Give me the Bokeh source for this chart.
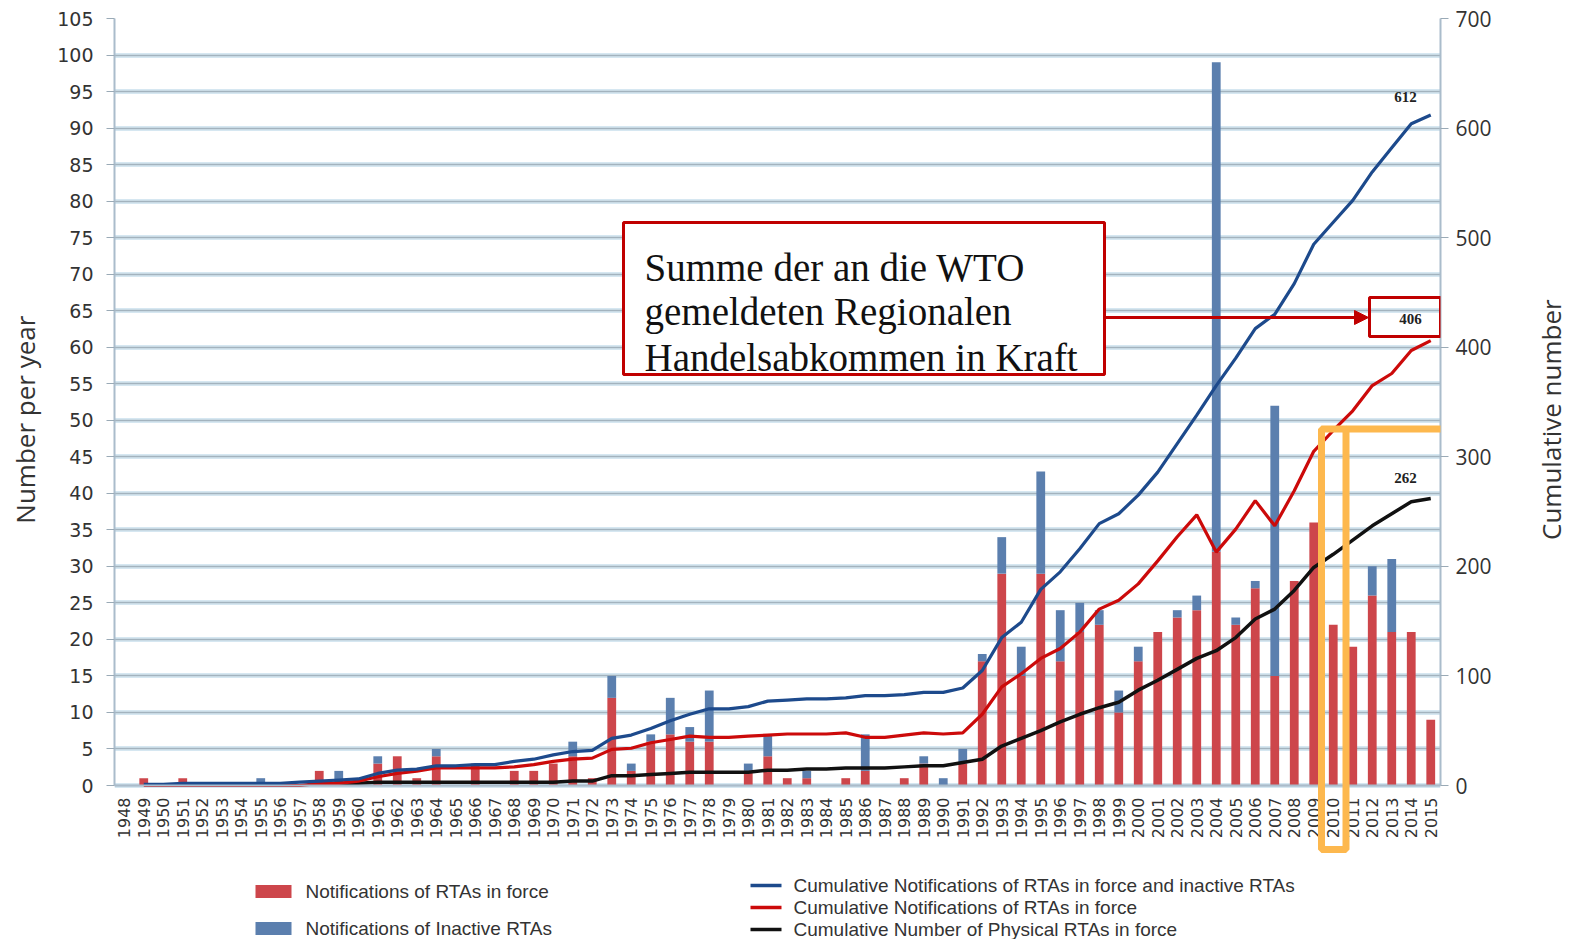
import math
from bokeh.plotting import figure
from bokeh.layouts import row
from bokeh.models import (Range1d, LinearAxis, FixedTicker, FactorRange, Label,
                          BoxAnnotation, Arrow, NormalHead, Grid, ColumnDataSource)
from bokeh.embed import file_html
from bokeh.resources import INLINE

# ---------------- data ----------------
years = [str(y) for y in range(1948, 2016)]

in_force = [0, 1, 0, 1, 0, 0, 0, 0, 0, 0,          # 1948-1957
            2, 0, 0, 3, 4, 1, 4, 0, 3, 0,          # 1958-1967
            2, 2, 3, 4, 1, 12, 2, 6, 7, 6,         # 1968-1977
            6, 0, 2, 4, 1, 1, 0, 1, 2, 0,          # 1978-1987
            1, 3, 0, 3, 17, 29, 15, 29, 17, 21,    # 1988-1997
            22, 10, 17, 21, 23, 24, 32, 22, 27, 15,  # 1998-2007
            28, 36, 22, 19, 26, 21, 21, 9]         # 2008-2015

inactive = [0, 0, 0, 0, 0, 0, 0, 1, 0, 0,          # 1948-1957
            0, 2, 0, 1, 0, 0, 1, 0, 0, 0,          # 1958-1967
            0, 0, 0, 2, 0, 3, 1, 1, 5, 2,          # 1968-1977
            7, 0, 1, 3, 0, 1, 0, 0, 5, 0,          # 1978-1987
            0, 1, 1, 2, 1, 5, 4, 14, 7, 4,         # 1988-1997
            2, 3, 2, 0, 1, 2, 67, 1, 1, 37,        # 1998-2007
            0, 0, 0, 0, 4, 10, 0, 0]               # 2008-2015

cum_all_years = years[1:]          # 1949-2015
cum_all = [1, 1, 2, 2, 2, 2, 2, 2, 3, 4,                     # 1949-1958
           5, 6, 11, 14, 15, 18, 18, 19, 19, 22,             # 1959-1968
           24, 28, 31, 32, 43, 46, 52, 59, 65, 70,           # 1969-1978
           70, 72, 77, 78, 79, 79, 80, 82, 82, 83,           # 1979-1988
           85, 85, 89, 105, 135, 149, 179, 195, 216, 239,    # 1989-1998
           248, 265, 286, 312, 338, 365, 390, 417, 430, 458, # 1999-2008
           494, 514, 534, 560, 582, 604, 612]                # 2009-2015

cum_inforce_years = years[1:]      # 1949-2015
cum_inforce = [0, 0, 0, 0, 0, 0, 0, 0, 0, 2,                 # 1949-1958
               2, 4, 8, 11, 13, 16, 16, 16, 16, 17,          # 1959-1968
               19, 22, 24, 25, 33, 34, 39, 42, 45, 44,       # 1969-1978
               44, 45, 46, 47, 47, 47, 48, 44, 44, 46,       # 1979-1988
               48, 47, 48, 65, 90, 102, 116, 125, 140, 161,  # 1989-1998
               169, 184, 205, 227, 247, 213, 234, 260, 237, 269,  # 1999-2008
               305, 324, 342, 365, 376, 397, 406]            # 2009-2015

cum_physical_years = years[10:]    # 1958-2015
cum_physical = [2, 2, 2, 3, 3, 3, 3, 3, 3, 3,                # 1958-1967
                3, 3, 3, 4, 4, 9, 9, 10, 11, 12,             # 1968-1977
                12, 12, 12, 14, 14, 15, 15, 16, 16, 16,      # 1978-1987
                17, 18, 18, 21, 24, 36, 43, 50, 58, 65,      # 1988-1997
                71, 76, 87, 96, 106, 116, 123, 135, 152, 161,  # 1998-2007
                178, 199, 211, 224, 237, 248, 259, 262]      # 2008-2015

left_ticks = list(range(0, 106, 5))
right_ticks = list(range(0, 701, 100))

left_title = "Number per year"
right_title = "Cumulative number"
series_labels = ["Notifications of RTAs in force",
                 "Notifications of Inactive RTAs",
                 "Cumulative Notifications of RTAs in force and inactive RTAs",
                 "Cumulative Notifications of RTAs in force",
                 "Cumulative Number of Physical RTAs in force"]
box_text = ["Summe der an die WTO", "gemeldeten Regionalen",
            "Handelsabkommen in Kraft"]

# ---------------- styling ----------------
RED_BAR = "#cd464b"
BLUE_BAR = "#5b7fae"
BLUE_LINE = "#1d4a8c"
RED_LINE = "#cc0a0a"
BLACK_LINE = "#111111"
BOX_RED = "#c00000"
ORANGE = "#fdb84e"
TXT = "#333333"

H = 939
LW, RW = 44, 46                  # side strips holding the rotated axis titles
MAIN_X0, MAIN_X1 = LW, 1568 - RW  # page x extent of the main figure
# plot geometry in page pixels: x extent of the categories, y of value 0 and 105
FL, FR, FT, Y0 = 114, 1440, 18, 785
NCAT = len(years)
PX_PER_UNIT = (Y0 - FT) / 105.0


def xd(px):
    return (px - FL) / (FR - FL) * NCAT


def yd(py):
    return (Y0 - py) / PX_PER_UNIT


# The frame runs down to the page bottom so that the legend and highlight
# below the x axis are drawn; the x axis sits at value 0.
p = figure(width=MAIN_X1 - MAIN_X0, height=H, x_range=FactorRange(*years),
           y_range=Range1d(yd(H), 105), output_backend="svg", toolbar_location=None,
           min_border_left=FL - MAIN_X0, min_border_right=MAIN_X1 - FR,
           min_border_top=FT, min_border_bottom=0)
p.extra_y_ranges = {"right": Range1d(yd(H) * 700 / 105, 700)}
p.outline_line_color = None
p.background_fill_color = "white"
p.border_fill_color = "white"

# grids (halo + core line)
p.xgrid.visible = False
p.ygrid.ticker = FixedTicker(ticks=left_ticks)
p.ygrid.grid_line_color = "#d6e7f1"
p.ygrid.grid_line_width = 5
core = Grid(dimension=1, ticker=FixedTicker(ticks=left_ticks),
            grid_line_color="#a3b3be", grid_line_width=1.5)
p.add_layout(core)

# left axis
la = p.left[0]
la.ticker = FixedTicker(ticks=left_ticks)
la.bounds = (0, 105)
la.major_label_text_font = "DejaVu Sans"
la.major_label_text_font_size = "19px"
la.major_label_text_color = TXT
la.major_tick_out = 8
la.major_tick_in = 0
la.major_tick_line_color = "#9aaab6"
la.minor_tick_line_color = None
la.major_label_standoff = 13
la.axis_line_color = "#aabccb"
la.axis_line_width = 2

# bottom axis, placed at value 0
ba = p.below[0]
ba.fixed_location = 0
ba.major_label_orientation = math.pi / 2
ba.major_label_text_font = "DejaVu Sans"
ba.major_label_text_font_size = "16px"
ba.major_label_text_color = TXT
ba.major_tick_out = 0
ba.major_tick_in = 0
ba.major_label_standoff = 12
ba.axis_line_color = "#aabccb"
ba.axis_line_width = 2

# right axis
ra = LinearAxis(y_range_name="right", ticker=FixedTicker(ticks=right_ticks),
                bounds=(0, 700))
ra.major_label_text_font = "Open Sans"
ra.major_label_text_font_size = "21px"
ra.major_label_text_color = TXT
ra.major_tick_out = 8
ra.major_tick_in = 0
ra.major_tick_line_color = "#9aaab6"
ra.minor_tick_line_color = None
ra.major_label_standoff = 7
ra.axis_line_color = "#aabccb"
ra.axis_line_width = 2
p.add_layout(ra, "right")

# bars
src = ColumnDataSource(dict(year=years, in_force=in_force, inactive=inactive))
p.vbar_stack(["in_force", "inactive"], x="year", width=0.45,
             color=[RED_BAR, BLUE_BAR], line_color=None, source=src)

# cumulative lines
p.line(cum_physical_years, cum_physical, y_range_name="right",
       line_color=BLACK_LINE, line_width=3.5)
p.line(cum_inforce_years, cum_inforce, y_range_name="right",
       line_color=RED_LINE, line_width=3.2)
p.line(cum_all_years, cum_all, y_range_name="right",
       line_color=BLUE_LINE, line_width=3.2)

# end value labels
for txt, px, py in [(str(cum_all[-1]), 1405, 96), (str(cum_inforce[-1]), 1410, 318),
                    (str(cum_physical[-1]), 1405, 477)]:
    p.add_layout(Label(x=xd(px), y=yd(py), text=txt, text_font="Liberation Serif",
                       text_font_style="bold", text_font_size="15px",
                       text_color="#222222", text_align="center",
                       text_baseline="middle"))

# 406 box and arrow
p.add_layout(BoxAnnotation(left=xd(1369), right=xd(1440), top=yd(297), bottom=yd(336),
                           fill_alpha=0, line_color=BOX_RED, line_width=3, line_alpha=1))
p.add_layout(Arrow(x_start=xd(1104), y_start=yd(317), x_end=xd(1368), y_end=yd(317),
                   line_color=BOX_RED, line_width=3,
                   end=NormalHead(size=14, fill_color=BOX_RED, line_color=BOX_RED)))

# annotation box
p.add_layout(BoxAnnotation(left=xd(623), right=xd(1104), top=yd(222), bottom=yd(374),
                           fill_color="white", fill_alpha=1, line_color=BOX_RED,
                           line_width=3, line_alpha=1))
for t, py in zip(box_text, [266.5, 310.5, 356.5]):
    p.add_layout(Label(x=xd(644), y=yd(py), text=t, text_font="Liberation Serif",
                       text_font_size="39px", text_color="#111111",
                       text_baseline="alphabetic", text_align="left"))

# orange highlight
p.add_layout(BoxAnnotation(left=xd(1321), right=xd(1345.5), top=yd(428.5), bottom=yd(849),
                           fill_alpha=0, line_color=ORANGE, line_width=7, line_alpha=1))
p.add_layout(BoxAnnotation(left=xd(1345.5), right=xd(1443), top=yd(425), bottom=yd(432),
                           fill_color=ORANGE, fill_alpha=1, line_color=None))

# legend (drawn below the x axis)
LEG_FONT = "Liberation Sans"
for (color, py, txt) in [(RED_BAR, 891, series_labels[0]), (BLUE_BAR, 928, series_labels[1])]:
    p.add_layout(BoxAnnotation(left=xd(255), right=xd(291), top=yd(py - 6.5),
                               bottom=yd(py + 6.5), fill_color=color, fill_alpha=1,
                               line_color=None))
    p.add_layout(Label(x=xd(305), y=yd(py), text=txt, text_font=LEG_FONT,
                       text_font_size="19px", text_color=TXT, text_baseline="middle"))
for (color, py, txt) in [(BLUE_LINE, 885, series_labels[2]), (RED_LINE, 907, series_labels[3]),
                         (BLACK_LINE, 929, series_labels[4])]:
    p.add_layout(BoxAnnotation(left=xd(750), right=xd(781), top=yd(py - 1.75),
                               bottom=yd(py + 1.75), fill_color=color, fill_alpha=1,
                               line_color=None))
    p.add_layout(Label(x=xd(793), y=yd(py), text=txt, text_font=LEG_FONT,
                       text_font_size="19px", text_color=TXT, text_baseline="middle"))


# side strips with the rotated axis titles (read bottom-to-top, centred on y = 409 px)
def title_strip(width, text, cx):
    s = figure(width=width, height=H, x_range=Range1d(0, width), y_range=Range1d(0, H),
               output_backend="svg", toolbar_location=None,
               x_axis_location=None, y_axis_location=None,
               min_border_left=0, min_border_right=0, min_border_top=0,
               min_border_bottom=0)
    s.outline_line_color = None
    s.xgrid.visible = False
    s.ygrid.visible = False
    s.add_layout(Label(x=cx, y=H - 409, text=text, angle=math.pi / 2,
                       text_font="Open Sans", text_font_size="26px", text_color=TXT,
                       text_align="center", text_baseline="middle"))
    return s


left_strip = title_strip(LW, left_title, 24)
right_strip = title_strip(RW, right_title, 1550 - MAIN_X1)

layout = row(left_strip, p, right_strip, spacing=0)
open("out.html", "w").write(file_html(layout, INLINE))
